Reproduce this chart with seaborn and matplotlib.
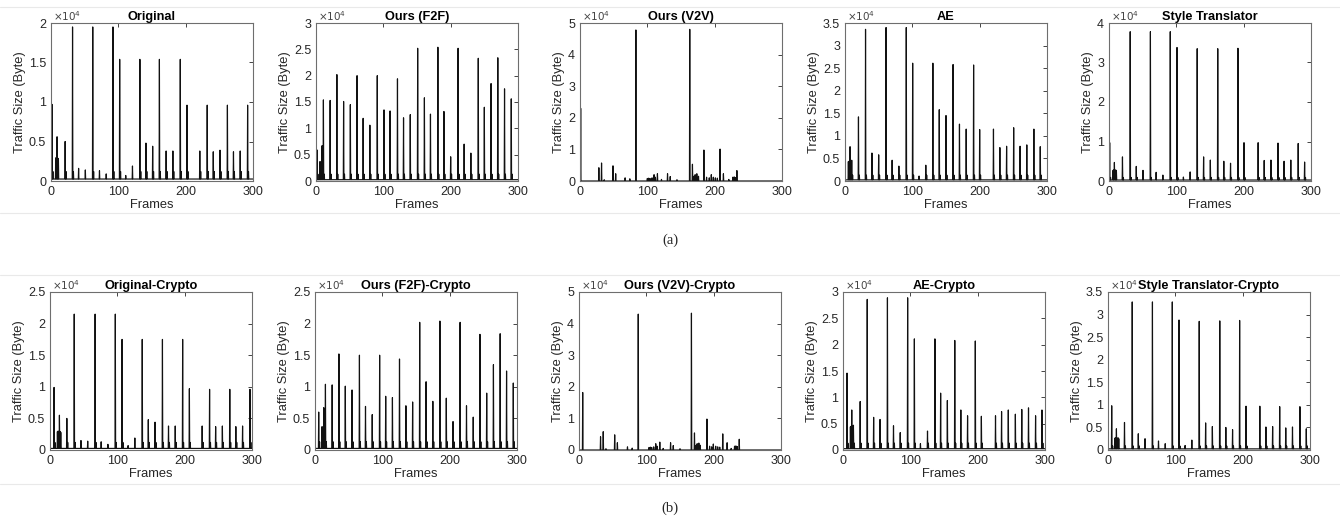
import matplotlib
matplotlib.use("Agg")
import matplotlib.pyplot as plt
from matplotlib.lines import Line2D
from matplotlib.ticker import FuncFormatter
import numpy as np
import pandas as pd
import seaborn as sns

# ---------------- data (spike frame positions and traffic sizes in bytes) ----------------
orig_frames = [1.5, 7, 8, 9, 10, 11, 21, 32, 41, 51, 62, 72, 82, 92, 102, 111, 121, 132, 141, 151,
               161, 171, 181, 192, 202, 221, 232, 241, 251, 262, 271, 281, 292]
orig_sizes = [9700, 2900, 3000, 5600, 2900, 2800, 5000, 19500, 1600, 1400, 19500, 1300, 900, 19500,
              15400, 700, 1900, 15400, 4800, 4400, 15400, 3800, 3800, 15400, 9600, 3800, 9600, 3700,
              3900, 9600, 3700, 3800, 9600]

f2f_frames = [1.5, 6, 9, 11, 21, 31, 41, 51, 61, 70, 80, 91, 101, 110, 121, 130, 140, 151, 161, 170,
              181, 190, 200, 211, 220, 230, 241, 250, 260, 270, 280, 290]
f2f_sizes = [5900, 3700, 6700, 15400, 15300, 20200, 15100, 14500, 20000, 11900, 10600, 20000, 13500,
             13300, 19400, 12000, 12600, 25200, 15800, 12700, 25400, 13200, 4600, 25200, 7000, 5300,
             23300, 14000, 18500, 23400, 17500, 15600]

v2v_frames = [1, 28, 32, 36, 49, 53, 67, 74, 83, 100, 102, 104, 107, 110, 112, 115, 121, 130, 134, 144,
              163, 167, 169, 171, 173.5, 176, 184, 188, 192, 195, 198, 201, 204, 208, 213, 221, 227,
              229, 231, 233]
v2v_sizes = [23000, 4200, 5700, 400, 4800, 2300, 1000, 700, 47800, 800, 900, 800, 1000, 2000, 1200,
             2300, 500, 2300, 1400, 400, 48000, 5300, 1500, 2000, 2300, 1500, 9800, 1200, 1000, 2000,
             1200, 1000, 900, 10100, 2300, 500, 1200, 1300, 1100, 3300]

ae_frames = [5, 6.2, 7.5, 8.8, 10, 20, 30.5, 40, 50, 61, 70, 80, 91, 100.5, 110, 120, 130.5, 140, 150,
             160.5, 170, 180, 191, 200, 220.5, 230, 240, 250.5, 260, 270, 280.5, 290]
ae_sizes = [4300, 4400, 7600, 4500, 4600, 14200, 33600, 6200, 5800, 34000, 4600, 3300, 34000, 26100,
            1100, 3500, 26100, 15800, 14500, 25800, 12600, 11500, 25700, 11400, 11500, 7400, 7700,
            11800, 7700, 8000, 11500, 7600]

st_frames = [1, 6, 7, 8, 9, 10, 11, 20, 31.5, 40.5, 50.5, 61.5, 70, 80, 91, 101, 110.5, 120.5, 131,
             140.5, 150.5, 161.5, 170.5, 180.5, 191.5, 200.5, 221.5, 230.5, 240.5, 251, 260, 270,
             281, 290.5]
st_sizes = [9700, 2700, 2800, 4700, 2700, 2800, 2600, 6100, 37800, 3700, 2700, 37800, 2200, 1500,
            37800, 33800, 1000, 2300, 33500, 6100, 5300, 33500, 5000, 4500, 33600, 9700, 9700, 5200,
            5300, 9600, 5000, 5300, 9500, 4800]

orig_c_frames = [6, 11, 12, 13, 14, 15, 16, 25, 36, 46, 56, 67, 76, 86, 97, 107, 116, 126, 137, 146,
                 156, 167, 176, 186, 197, 207, 226, 237, 246, 256, 267, 276, 286, 297]
orig_c_sizes = [9900, 2900, 3000, 2900, 5500, 2900, 2800, 5000, 21500, 1500, 1400, 21500, 1300, 900,
                21500, 17500, 700, 1900, 17500, 4800, 4400, 17500, 3800, 3800, 17500, 9700, 3800,
                9600, 3700, 3800, 9600, 3700, 3800, 9600]

f2f_c_frames = [5.5, 10.5, 13, 15.5, 25.5, 35.5, 45, 55, 66, 75, 85, 96, 105, 115, 125.5, 135, 145,
                155.5, 165, 175, 185.5, 195, 205, 215.5, 225, 235, 245, 255, 265, 275, 284.5, 294.5]
f2f_c_sizes = [6000, 3700, 6700, 10400, 10300, 15200, 10100, 9500, 15000, 6900, 5600, 15000, 8500,
               8300, 14400, 7000, 7600, 20200, 10800, 7700, 20400, 8200, 4500, 20200, 7000, 5200,
               18300, 9000, 13500, 18400, 12500, 10600]

v2v_c_frames = [5.5, 32, 36, 40, 53, 57, 72, 79, 88, 104, 106, 108, 111, 114, 116, 120, 125, 136, 140,
                150, 167, 171.5, 174, 175.5, 178, 180, 190, 194, 197, 199.5, 203, 206, 209, 213.5,
                220, 226, 231, 233, 235, 238]
v2v_c_sizes = [18200, 4200, 5800, 400, 4800, 2300, 1000, 600, 43000, 800, 900, 800, 1000, 2000, 1200,
               2500, 500, 2300, 1400, 400, 43300, 5400, 1500, 2000, 2200, 1500, 9800, 1200, 1000,
               1900, 1200, 1000, 900, 5100, 2300, 500, 1200, 1300, 1100, 3400]

ae_c_frames = [6, 11, 12, 13, 14.5, 15.5, 25.5, 36, 45.5, 55, 66, 75, 85, 96, 106, 115, 125.5, 136.5,
               145, 155, 166, 175, 185, 196.5, 205.5, 226.5, 235.5, 245.5, 256, 265.5, 275.5, 286,
               295.5]
ae_c_sizes = [14600, 4400, 4500, 7600, 4600, 4700, 9200, 28600, 6200, 5800, 28900, 4600, 3300, 28900,
              21100, 1200, 3600, 21100, 10800, 9400, 20800, 7600, 6500, 20700, 6400, 6500, 7300,
              7600, 6800, 7700, 8000, 6500, 7600]

st_c_frames = [5.5, 10, 11, 12.5, 14, 15, 16, 24.5, 36, 45, 55, 66, 75, 85, 95.5, 105.5, 114.5, 124.5,
               135.5, 145, 155, 166, 175, 185, 195.5, 205, 225.5, 234.5, 244.5, 255, 264, 274, 285,
               294.5]
st_c_sizes = [9800, 2600, 2700, 4700, 2600, 2700, 2500, 6100, 32800, 3600, 2500, 32800, 2000, 1400,
              32800, 28800, 1000, 2200, 28500, 6000, 5200, 28600, 5000, 4500, 28700, 9700, 9700, 5100,
              5200, 9600, 4900, 5100, 9600, 4700]

titles_a = ["Original", "Ours (F2F)", "Ours (V2V)", "AE", "Style Translator"]
titles_b = ["Original-Crypto", "Ours (F2F)-Crypto", "Ours (V2V)-Crypto", "AE-Crypto",
            "Style Translator-Crypto"]
ymax_a = [20000, 30000, 50000, 35000, 40000]
ystep_a = [5000, 5000, 10000, 5000, 10000]
ymax_b = [25000, 25000, 50000, 30000, 35000]
ystep_b = [5000, 5000, 10000, 5000, 5000]
baseline_bytes = [250, 250, 0, 250, 250]     # idle traffic level between spikes
echo_bytes = [1200, 1300, 0, 1300, 900]      # small follow-up packet after large frames
x_ticks = [0, 100, 200, 300]

series_a = [(orig_frames, orig_sizes), (f2f_frames, f2f_sizes), (v2v_frames, v2v_sizes),
            (ae_frames, ae_sizes), (st_frames, st_sizes)]
series_b = [(orig_c_frames, orig_c_sizes), (f2f_c_frames, f2f_c_sizes), (v2v_c_frames, v2v_c_sizes),
            (ae_c_frames, ae_c_sizes), (st_c_frames, st_c_sizes)]


def build_trace(frames, sizes, base, echo):
    pts = [(0.0, base), (300.0, base)]
    hw = 0.45
    for i, (f, s) in enumerate(zip(frames, sizes)):
        pts += [(f - hw, base), (f, s), (f + hw, base)]
        nxt = frames[i + 1] if i + 1 < len(frames) else 400
        if echo and s > 3000 and nxt - f > 2.5:
            pts += [(f + 0.9, base), (f + 1.3, echo), (f + 1.7, base)]
    df = pd.DataFrame(pts, columns=["frame", "bytes"]).sort_values("frame", kind="stable")
    return df


sns.set_theme(style="white")
plt.rcParams["font.family"] = ["Liberation Sans", "DejaVu Sans"]

W, H = 1340, 523
fig = plt.figure(figsize=(W / 100, H / 100), dpi=100)

# light separator lines of the composed figure
for yy in [7, 213, 275, 484]:
    fig.add_artist(Line2D([0, 1], [1 - yy / H, 1 - yy / H], transform=fig.transFigure,
                          color="#e9e9e9", lw=0.8))

lefts_a = [51, 316, 580, 845, 1109]
lefts_b = [50, 315, 579, 843, 1108]
ax_w = 202
ax_h = 158
tops = [23, 292]

dark = "#262626"
fmt = FuncFormatter(lambda v, p: f"{v / 1e4:g}")

rows = [(titles_a, series_a, ymax_a, ystep_a, lefts_a, tops[0]),
        (titles_b, series_b, ymax_b, ystep_b, lefts_b, tops[1])]
for titles, series, ymaxs, ysteps, lefts, top in rows:
    for k in range(5):
        ax = fig.add_axes([lefts[k] / W, 1 - (top + ax_h) / H, ax_w / W, ax_h / H])
        frames, sizes = series[k]
        df = build_trace(frames, sizes, baseline_bytes[k], echo_bytes[k])
        sns.lineplot(data=df, x="frame", y="bytes", ax=ax, estimator=None, sort=False,
                     color="#111111", linewidth=0.85)
        ax.set_xlim(0, 300)
        ax.set_ylim(0, ymaxs[k])
        ax.set_xticks(x_ticks)
        ax.set_yticks(np.arange(0, ymaxs[k] + 1, ysteps[k]))
        ax.yaxis.set_major_formatter(fmt)
        ax.tick_params(direction="in", top=True, right=True, length=3, width=0.6,
                       labelsize=9, colors=dark, pad=3.5)
        for sp in ax.spines.values():
            sp.set_color("#6e6e6e")
            sp.set_linewidth(0.8)
        ax.set_title(titles[k], fontsize=9.2, fontweight="bold", pad=2, color="black")
        ax.set_xlabel("Frames", fontsize=9.3, labelpad=1, color=dark)
        ax.set_ylabel("Traffic Size (Byte)", fontsize=9.3, labelpad=2, color=dark)
        ax.text(0.01, 1.003, r"$\times10^4$", transform=ax.transAxes, fontsize=7.5,
                va="bottom", ha="left", color="#444444")

fig.text(670 / W, 1 - 240 / H, "(a)", ha="center", va="center", fontsize=10.5,
         family=["Liberation Serif", "DejaVu Serif"])
fig.text(670 / W, 1 - 508 / H, "(b)", ha="center", va="center", fontsize=10.5,
         family=["Liberation Serif", "DejaVu Serif"])

fig.savefig("out.png", dpi=100, facecolor="white")
